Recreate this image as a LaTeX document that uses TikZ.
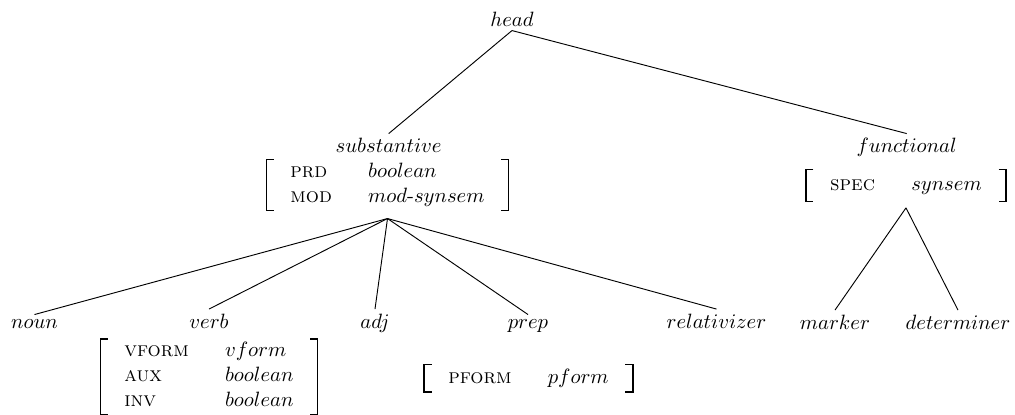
\documentclass[tikz,border=0pt]{standalone}
% Type hierarchy of head values with their feature structures
\newcommand{\avmbrackets}[1]{%
  \draw[brk] ([xshift=3.6pt]#1.north west) -- (#1.north west)
    -- (#1.south west) -- ([xshift=3.6pt]#1.south west);
  \draw[brk] ([xshift=-3.6pt]#1.north east) -- (#1.north east)
    -- (#1.south east) -- ([xshift=-3.6pt]#1.south east);}
\newcommand{\avmtab}[1]{%
  \begin{tabular}{@{\hspace{11.5pt}}l@{\hspace{17.5pt}}l@{\hspace{11.5pt}}}#1\end{tabular}}
\begin{document}
\begin{tikzpicture}[x=0.483pt,y=-0.483pt,
  cat/.style={inner sep=2pt, anchor=base},
  avm/.style={inner sep=0pt},
  edge/.style={line width=0.45pt},
  brk/.style={line width=0.6pt},
]
\useasboundingbox (0,0) rectangle (1015,414);

% types
\node[cat] (head) at (512,26) {$head$};
\node[cat] (subst) at (388.7,152.5) {$substantive$};
\node[cat] (func) at (906.7,152.5) {$functional$};
\node[cat] (noun) at (34.5,328) {$noun$};
\node[cat] (verb) at (209,328) {$verb$};
\node[cat] (adj) at (375,328) {$adj$};
\node[cat] (prep) at (528,328) {$prep$};
\node[cat] (rel) at (716.5,328) {$relativizer$};
\node[cat] (marker) at (835,329) {$marker$};
\node[cat] (det) at (958,329) {$determiner$};

% feature structures
\node[avm] (subavm) at (387.5,185)
  {\avmtab{\textsc{prd} & $boolean$ \\ \textsc{mod} & $mod\mbox{-}synsem$}};
\node[avm, minimum height=14.8pt] (funcavm) at (906,185.5)
  {\avmtab{\textsc{spec} & $synsem$}};
\node[avm] (verbavm) at (209,376.7)
  {\avmtab{\textsc{vform} & $vform$ \\ \textsc{aux} & $boolean$ \\ \textsc{inv} & $boolean$}};
\node[avm, minimum height=12.9pt] (prepavm) at (528.5,378.3)
  {\avmtab{\textsc{pform} & $pform$}};

\avmbrackets{subavm}
\avmbrackets{funcavm}
\avmbrackets{verbavm}
\avmbrackets{prepavm}

% branching points below the feature structures
\coordinate (subfork) at ([yshift=-4pt]subavm.south);
\coordinate (funcfork) at ([yshift=-3.2pt]funcavm.south);

% edges
\draw[edge] (head.south) -- (subst.north);
\draw[edge] (head.south) -- (func.north);
\foreach \c in {noun,verb,adj,prep,rel}
  \draw[edge] (subfork) -- (\c.north);
\foreach \c in {marker,det}
  \draw[edge] (funcfork) -- (\c.north);
\end{tikzpicture}
\end{document}
